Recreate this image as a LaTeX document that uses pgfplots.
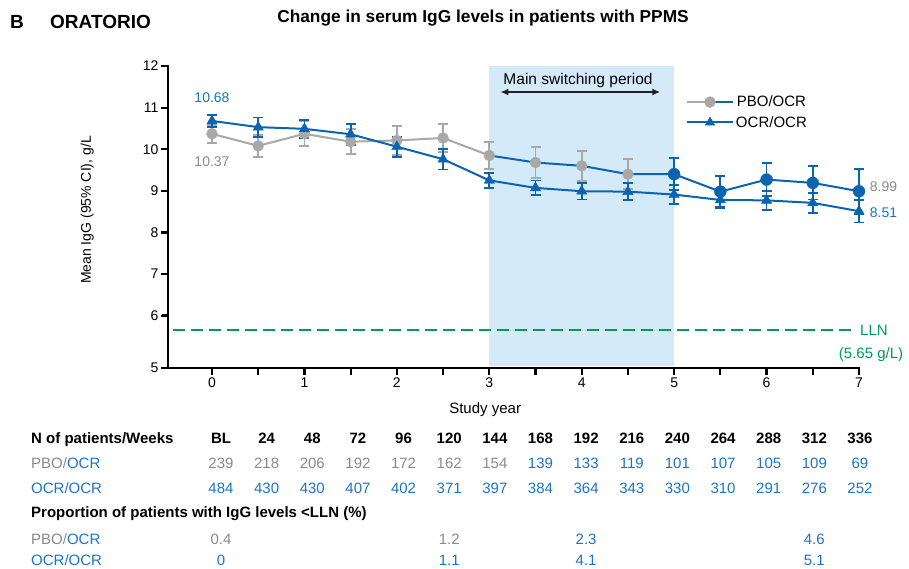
\documentclass[border=0pt]{standalone}
\usepackage{fontspec}
\setmainfont{Liberation Sans}
\usepackage{pgfplots}
\pgfplotsset{compat=1.18}
\usetikzlibrary{arrows.meta}
\definecolor{ocrblue}{HTML}{0B64B0}
\definecolor{txtblue}{HTML}{1E73C8}
\definecolor{pbogray}{HTML}{A8A8A8}
\definecolor{txtgray}{HTML}{8A8A8A}
\definecolor{llngreen}{HTML}{009B5A}
\definecolor{shadeblue}{HTML}{D5EAF8}
\definecolor{axisblack}{HTML}{231F20}
\newcommand{\fs}[1]{\fontsize{#1}{#1}\selectfont}
\pgfplotsset{
  errstyle/.style={error bars/.cd, y dir=both, y explicit,
    error bar style={line width=1.8pt, color=#1},
    error mark options={line width=1.8pt, mark size=5pt, color=#1, rotate=90}},
}
\begin{document}
\begin{tikzpicture}
\path (0,0) rectangle (909pt,-568pt);
\begin{axis}[
  at={(168pt,-368pt)}, anchor=south west,
  scale only axis, width=691pt, height=302pt,
  xmin=-0.476, xmax=7, ymin=4.74, ymax=12,
  axis lines=left,
  axis line style={-, line width=2.4pt, color=black},
  xtick={0,...,7},
  ytick={4.74,6,7,8,9,10,11,12}, yticklabels={5,6,7,8,9,10,11,12},
  tick align=outside, major tick length=6pt,
  major tick style={color=black, line width=2.2pt},
  tick label style={font=\fs{14}},
  /pgf/number format/assume math mode=true,
  xlabel={Study year}, ylabel={Mean IgG (95\% CI), g/L},
  x label style={at={(axis description cs:0.459,-0.139)}, anchor=center, font=\fs{15}},
  y label style={at={(axis description cs:-0.117,0.523)}, anchor=center, font=\fs{14}},
  clip=false,
  legend style={draw=none, fill=none, row sep=4pt, font=\fs{15},
    at={(axis description cs:0.745,0.915)}, anchor=north west},
]
% shaded switching period
\addplot[draw=none, fill=shadeblue, forget plot] coordinates {(3,4.78) (3,12) (5,12) (5,4.78)} -- cycle;
% LLN
\addplot[llngreen, line width=2.6pt, dash pattern=on 12pt off 6pt, forget plot] coordinates {(-0.42,5.65) (6.98,5.65)};
% PBO/OCR lines
\addplot[pbogray, line width=2pt, no markers, forget plot] coordinates {
 (0,10.37) (0.5,10.08) (1,10.37) (1.5,10.18) (2,10.21) (2.5,10.27) (3,9.85)};
\addplot[ocrblue, line width=2pt, no markers, forget plot] coordinates {
 (3,9.85) (3.5,9.68) (4,9.60) (4.5,9.40) (5,9.40) (5.5,8.98) (6,9.27) (6.5,9.19) (7,8.99)};
% PBO/OCR gray points
\addplot[pbogray, only marks, mark=*, mark size=5.5pt, mark options={line width=0.3pt}, forget plot, errstyle=pbogray] coordinates {
 (0,10.37) +- (0,0.22)
 (0.5,10.08) +- (0,0.27)
 (1,10.37) +- (0,0.30)
 (1.5,10.18) +- (0,0.30)
 (2,10.21) +- (0,0.34)
 (2.5,10.27) +- (0,0.34)
 (3,9.85) +- (0,0.32)
 (3.5,9.68) +- (0,0.38)
 (4,9.60) +- (0,0.36)
 (4.5,9.40) +- (0,0.36)};
% PBO/OCR blue points after switch
\addplot[ocrblue, only marks, mark=*, mark size=6pt, mark options={line width=0.3pt}, forget plot, errstyle=ocrblue] coordinates {
 (5,9.40) +- (0,0.39)
 (5.5,8.98) +- (0,0.37)
 (6,9.27) +- (0,0.40)
 (6.5,9.19) +- (0,0.40)
 (7,8.99) +- (0,0.54)};
% OCR/OCR
\addplot[ocrblue, line width=2pt, mark=triangle*, mark size=6pt, mark options={line width=0.3pt}, forget plot, errstyle=ocrblue] coordinates {
 (0,10.68) +- (0,0.14)
 (0.5,10.53) +- (0,0.23)
 (1,10.49) +- (0,0.22)
 (1.5,10.36) +- (0,0.25)
 (2,10.06) +- (0,0.24)
 (2.5,9.76) +- (0,0.25)
 (3,9.25) +- (0,0.18)
 (3.5,9.07) +- (0,0.18)
 (4,8.99) +- (0,0.20)
 (4.5,8.98) +- (0,0.20)
 (5,8.91) +- (0,0.22)
 (5.5,8.78) +- (0,0.20)
 (6,8.77) +- (0,0.23)
 (6.5,8.71) +- (0,0.24)
 (7,8.51) +- (0,0.27)};
% axis frame as a pgfplots path
\addplot[black, line width=2.4pt, no markers, forget plot] coordinates {(-0.476,12) (-0.476,4.74) (7,4.74)};
% legend
\addlegendimage{legend image code/.code={
  \draw[pbogray, line width=2pt] (0pt,0pt) -- (23pt,0pt);
  \draw[ocrblue, line width=2pt] (23pt,0pt) -- (46pt,0pt);
  \draw[pbogray, mark size=5.5pt] plot[mark=*] coordinates {(23pt,0pt)};}}
\addlegendentry{PBO/OCR}
\addlegendimage{legend image code/.code={
  \draw[ocrblue, line width=2pt] (0pt,0pt) -- (46pt,0pt);
  \draw[ocrblue, mark size=5.5pt, line width=0.3pt] plot[mark=triangle*] coordinates {(23pt,0pt)};}}
\addlegendentry{OCR/OCR}
% annotations
\node[txtblue, font=\fs{14}] at (axis cs:0,11.25) {10.68};
\node[txtgray, font=\fs{14}] at (axis cs:0,9.69) {10.37};
\node[txtgray, font=\fs{14}, anchor=west] at (axis cs:7.08,9.09) {8.99};
\node[txtblue, font=\fs{14}, anchor=west] at (axis cs:7.08,8.47) {8.51};
\draw[{Latex[length=8pt,width=7pt]}-{Latex[length=8pt,width=7pt]}, line width=1.5pt, axisblack] (axis cs:3.12,11.375) -- (axis cs:4.85,11.375);
\node[font=\fs{15.5}] at (axis cs:3.96,11.66) {Main switching period};
\node[llngreen, anchor=west, font=\fs{15}, inner sep=1pt] at (axis cs:7.0,5.65) {LLN};
\node[llngreen, anchor=west, font=\fs{15}, inner sep=1pt] at (axis cs:6.77,5.05) {(5.65 g/L)};
\end{axis}
% axis frame and ticks as filled bars
\fill[black] (166.8pt,-64.9pt) rectangle (169.2pt,-369.2pt);
\fill[black] (166.8pt,-366.8pt) rectangle (860.2pt,-369.2pt);
\foreach \k in {0,...,14} {
  \fill[black] ({212pt+\k*46.215pt-1.1pt},-368pt) rectangle ({212pt+\k*46.215pt+1.1pt},-375pt);}
\foreach \yp in {66,107.6,149.2,190.8,232.4,274.0,315.6,367.9} {
  \fill[black] (161pt,{-\yp pt+1.1pt}) rectangle (168pt,{-\yp pt-1.1pt});}
% titles
\node[font=\bfseries\fs{17.3}] at (483pt,-18pt) {Change in serum IgG levels in patients with PPMS};
\node[font=\bfseries\fs{19}, anchor=west, inner sep=0pt] at (10pt,-22pt) {B};
\node[font=\bfseries\fs{19}, anchor=west, inner sep=0pt] at (50pt,-22pt) {ORATORIO};
% table
\node[anchor=base west, font=\bfseries\fs{15}, inner sep=0pt] at (31pt,-443.5pt) {N of patients/Weeks};
\node[anchor=base west, font=\fs{15}, inner sep=0pt] at (31pt,-468.5pt) {\textcolor{txtgray}{PBO/}\textcolor{txtblue}{OCR}};
\node[anchor=base west, font=\fs{15}, inner sep=0pt, txtblue] at (31pt,-493.5pt) {OCR/OCR};
\node[anchor=base west, font=\bfseries\fs{15}, inner sep=0pt] at (31pt,-517.5pt) {Proportion of patients with IgG levels <LLN (\%)};
\node[anchor=base west, font=\fs{15}, inner sep=0pt] at (31pt,-544pt) {\textcolor{txtgray}{PBO/}\textcolor{txtblue}{OCR}};
\node[anchor=base west, font=\fs{15}, inner sep=0pt, txtblue] at (31pt,-565pt) {OCR/OCR};
\foreach \v [count=\i from 0] in {BL,24,48,72,96,120,144,168,192,216,240,264,288,312,336}
  {\node[anchor=base, font=\bfseries\fs{15}, inner sep=0pt] at ({221pt+\i*45.64pt},-443.5pt) {\v};}
\foreach \v [count=\i from 0] in {239,218,206,192,172,162,154}
  {\node[anchor=base, font=\fs{15}, inner sep=0pt, txtgray] at ({221pt+\i*45.64pt},-468.5pt) {\v};}
\foreach \v [count=\i from 7] in {139,133,119,101,107,105,109,69}
  {\node[anchor=base, font=\fs{15}, inner sep=0pt, txtblue] at ({221pt+\i*45.64pt},-468.5pt) {\v};}
\foreach \v [count=\i from 0] in {484,430,430,407,402,371,397,384,364,343,330,310,291,276,252}
  {\node[anchor=base, font=\fs{15}, inner sep=0pt, txtblue] at ({221pt+\i*45.64pt},-493.5pt) {\v};}
\node[anchor=base, font=\fs{15}, inner sep=0pt, txtgray] at ({221pt+0*45.64pt},-544pt) {0.4};
\node[anchor=base, font=\fs{15}, inner sep=0pt, txtgray] at ({221pt+5*45.64pt},-544pt) {1.2};
\node[anchor=base, font=\fs{15}, inner sep=0pt, txtblue] at ({221pt+8*45.64pt},-544pt) {2.3};
\node[anchor=base, font=\fs{15}, inner sep=0pt, txtblue] at ({221pt+13*45.64pt},-544pt) {4.6};
\node[anchor=base, font=\fs{15}, inner sep=0pt, txtblue] at ({221pt+0*45.64pt},-565pt) {0};
\node[anchor=base, font=\fs{15}, inner sep=0pt, txtblue] at ({221pt+5*45.64pt},-565pt) {1.1};
\node[anchor=base, font=\fs{15}, inner sep=0pt, txtblue] at ({221pt+8*45.64pt},-565pt) {4.1};
\node[anchor=base, font=\fs{15}, inner sep=0pt, txtblue] at ({221pt+13*45.64pt},-565pt) {5.1};
\end{tikzpicture}
\end{document}
